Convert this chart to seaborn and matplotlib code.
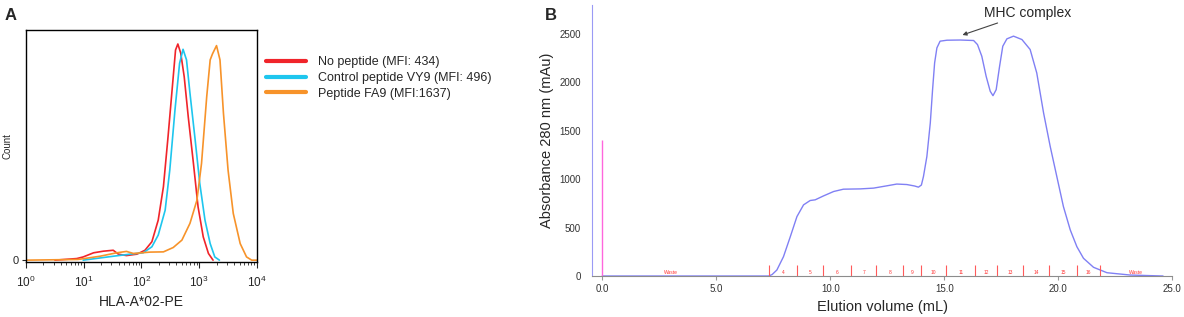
import numpy as np
import pandas as pd
import matplotlib
matplotlib.use("Agg")
import matplotlib.pyplot as plt
import seaborn as sns

# ============================================================================
# Data
# ============================================================================
# Panel A: flow cytometry histograms, x given as log10(HLA-A*02-PE)
red_log = [0.50, 0.88, 0.99, 1.17, 1.34, 1.51, 1.60, 1.74, 1.92, 2.06, 2.18, 2.29, 2.38,
           2.46, 2.54, 2.59, 2.63, 2.68, 2.74, 2.81, 2.90, 2.98, 3.07, 3.16, 3.24]
red_cnt = [0, 0.7, 1.4, 3.2, 3.9, 4.3, 2.6, 2.0, 2.6, 4.3, 8.0, 17.4, 31.9,
           53.6, 76.8, 91.3, 93.9, 89.9, 79.7, 62.3, 42.0, 23.2, 10.1, 2.9, 0]

cyan_log = [0.99, 1.51, 1.80, 2.03, 2.18, 2.29, 2.41, 2.49, 2.58, 2.66, 2.72, 2.78, 2.84,
            2.93, 3.01, 3.10, 3.19, 3.27, 3.35]
cyan_cnt = [0, 1.7, 2.6, 3.2, 5.8, 10.9, 21.7, 39.1, 65.2, 85.5, 91.6, 87.0, 72.5,
            52.2, 33.3, 17.4, 7.2, 1.4, 0]

orange_log = [0.0, 0.9, 1.28, 1.57, 1.74, 1.86, 2.15, 2.38, 2.55, 2.70, 2.84, 2.96, 3.04,
              3.13, 3.19, 3.23, 3.30, 3.36, 3.42, 3.50, 3.59, 3.71, 3.82, 3.91, 4.0]
orange_cnt = [0, 0.3, 1.7, 3.2, 3.8, 2.9, 3.5, 3.6, 5.5, 8.7, 16.0, 26.0, 42.0,
              71.0, 87.0, 89.6, 93.2, 87.0, 63.8, 39.1, 20.3, 7.2, 1.4, 0, 0]

series_labels = ["No peptide (MFI: 434)", "Control peptide VY9 (MFI: 496)", "Peptide FA9 (MFI:1637)"]
series_colors = ["#f0242a", "#1ec6ee", "#f7932a"]

# Panel B: size-exclusion chromatogram
elution = [0, 7.30, 7.45, 7.66, 7.95, 8.25, 8.54, 8.83, 9.12, 9.34, 9.71, 10.15, 10.58,
           11.32, 11.90, 12.49, 12.92, 13.36, 13.70, 13.87, 14.00, 14.09, 14.24, 14.39,
           14.49, 14.58, 14.68, 14.82, 15.12, 15.70, 16.29, 16.46, 16.65, 16.84, 17.02,
           17.14, 17.28, 17.43, 17.57, 17.75, 18.04, 18.41, 18.77, 19.06, 19.36, 19.65,
           19.94, 20.23, 20.53, 20.82, 21.11, 21.55, 22.14, 23.16, 24.60]
absorbance = [0, 0, 15, 62, 200, 407, 614, 735, 780, 787, 828, 873, 897,
              900, 908, 932, 950, 945, 930, 918, 940, 1028, 1235, 1581,
              1925, 2202, 2357, 2426, 2436, 2438, 2433, 2391, 2270, 2063, 1908,
              1863, 1925, 2167, 2374, 2450, 2478, 2443, 2340, 2098, 1684, 1339,
              1028, 717, 476, 303, 183, 90, 34, 10, 0]

fraction_edges = [7.32, 8.55, 9.69, 10.92, 12.02, 13.2, 13.99, 15.09, 16.36, 17.32,
                  18.46, 19.6, 20.83, 21.84]
fraction_names = ["4", "5", "6", "7", "8", "9", "10", "11", "12", "13", "14", "15", "16"]
waste_pos = [3.0, 23.4]

injection_x = 0.0
injection_height = 1400

# ============================================================================
# Plot
# ============================================================================
sns.set_style("white")
plt.rcParams['font.family'] = ['Liberation Sans', 'DejaVu Sans']

fig = plt.figure(figsize=(11.84, 3.17), dpi=100)

# ---- Panel A ----
axA = fig.add_axes([0.022, 0.1735, 0.195, 0.732])
for lg, cnt, lab, col in zip([red_log, cyan_log, orange_log],
                             [red_cnt, cyan_cnt, orange_cnt],
                             series_labels, series_colors):
    df = pd.DataFrame({'x': 10 ** np.array(lg), 'y': cnt})
    sns.lineplot(data=df, x='x', y='y', ax=axA, color=col, linewidth=1.2,
                 estimator=None, sort=False, label=lab, legend=False)
axA.set_xscale('log')
axA.set_xlim(1, 1e4)
axA.set_ylim(-0.8, 100)
axA.set_yticks([0])
axA.set_yticklabels(["0"], fontsize=8)
axA.tick_params(axis='x', which='major', labelsize=8.5, direction='out', length=4, width=0.8,
                bottom=True, pad=5)
axA.tick_params(axis='x', which='minor', direction='out', length=2.5, width=0.6, bottom=True)
axA.tick_params(axis='y', direction='out', length=3, left=True, pad=2)
for s in axA.spines.values():
    s.set_color('black')
    s.set_linewidth(1.0)
axA.set_xlabel("HLA-A*02-PE", fontsize=10, labelpad=4)
axA.set_ylabel("Count", fontsize=7)
axA.yaxis.set_label_coords(-0.058, 0.5)
axA.grid(False)

handles, labels = axA.get_legend_handles_labels()
leg = fig.legend(handles, labels, loc='upper left', bbox_to_anchor=(0.215, 0.858),
                 frameon=False, fontsize=9, handlelength=3.2, handletextpad=1.0,
                 labelspacing=0.3)
for h in leg.get_lines():
    h.set_linewidth(3)

fig.text(0.004, 0.975, "A", fontsize=12, fontweight='bold', va='top')

# ---- Panel B ----
axB = fig.add_axes([0.5, 0.1293, 0.49, 0.855])
dfB = pd.DataFrame({'ml': elution, 'mau': absorbance})
sns.lineplot(data=dfB, x='ml', y='mau', ax=axB, color='#8080f4', linewidth=1.0,
             estimator=None, sort=False)
axB.vlines(injection_x, 0, injection_height, color='#ff66dd', linewidth=1.0)

axB.vlines(fraction_edges, 0, 110, color='#ff5a5a', linewidth=0.8)
mids = [(a + b) / 2 for a, b in zip(fraction_edges[:-1], fraction_edges[1:])]
for m, n in zip(mids, fraction_names):
    axB.text(m, 40, n, fontsize=3.5, color='#ff3333', ha='center', va='center')
for w in waste_pos:
    axB.text(w, 40, "Waste", fontsize=3.5, color='#ff3333', ha='center', va='center')

axB.set_xlim(-0.45, 25.0)
axB.set_ylim(0, 2800)
axB.set_xticks([0, 5, 10, 15, 20, 25])
axB.set_xticklabels(["0.0", "5.0", "10.0", "15.0", "20.0", "25.0"])
axB.set_yticks([0, 500, 1000, 1500, 2000, 2500])
axB.tick_params(axis='x', labelsize=7, colors='#333333', length=3, direction='out',
                bottom=True, pad=3, color='#999999')
axB.tick_params(axis='y', labelsize=7, colors='#333333', length=0, pad=8)
for side in ['top', 'right']:
    axB.spines[side].set_visible(False)
axB.spines['left'].set_color('#9a9af5')
axB.spines['bottom'].set_color('#8c8c8c')
axB.set_xlabel("Elution volume (mL)", fontsize=10.5, labelpad=4)
axB.set_ylabel("Absorbance 280 nm (mAu)", fontsize=10.5, labelpad=4)
axB.grid(False)

axB.annotate("MHC complex", xy=(15.8, 2490), xytext=(16.75, 2720),
             fontsize=10, ha='left', va='center',
             arrowprops=dict(arrowstyle='-|>', color='#444444', lw=0.8,
                             mutation_scale=6, shrinkA=0, shrinkB=0))

fig.text(0.46, 0.975, "B", fontsize=12, fontweight='bold', va='top')

fig.savefig("out.png", dpi=100)
